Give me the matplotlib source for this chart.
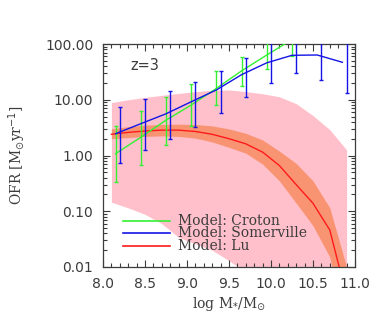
import numpy as np
import matplotlib.pyplot as plt
from matplotlib.ticker import MultipleLocator, LogLocator, FixedLocator, FormatStrFormatter, NullFormatter

# Lu model: median and 1-sigma bands, 0.2 dex grid
lu_x = np.array([8.1, 8.3, 8.5, 8.7, 8.9, 9.1, 9.3, 9.5, 9.7, 9.9, 10.1, 10.3, 10.5, 10.7, 10.9])
lu_med = np.array([2.4, 2.6, 2.75, 2.85, 2.85, 2.7, 2.4, 2.0, 1.62, 1.15, 0.66, 0.3, 0.139, 0.046, 0.003])
lu_hi = np.array([3.0, 3.3, 3.5, 3.6, 3.65, 3.6, 3.4, 3.0, 2.5, 1.9, 1.2, 0.72, 0.35, 0.115, 0.01])
lu_lo = np.array([2.0, 2.1, 2.2, 2.25, 2.2, 2.05, 1.75, 1.4, 1.1, 0.7, 0.35, 0.14, 0.055, 0.015, 0.0005])
# wide (pink) band
lu_hi2 = np.array([8.9, 10.0, 11.0, 12.0, 13.0, 14.0, 14.8, 15.0, 14.0, 12.8, 11.3, 8.5, 5.2, 2.9, 1.26])
lu_lo2 = np.array([0.145, 0.115, 0.088, 0.06, 0.034, 0.026, 0.02, 0.013, 0.008, 0.005, 0.003, 0.002, 0.0015, 0.001, 0.001])

# Croton model
cr_x = np.array([8.15, 8.45, 8.75, 9.05, 9.35, 9.65, 9.95, 10.25])
cr_y = np.array([1.08, 2.12, 4.3, 8.05, 16, 33, 63.5, 120])
cr_lo = np.array([0.34, 0.68, 1.54, 3.43, 7.95, 17.7, 35.6, 61])
cr_hi = np.array([3.4, 6.2, 11.1, 18.9, 33.2, 59, 150, 250])

# Somerville model (error bars shifted by 0.05 dex)
so_x = np.array([8.15, 8.45, 8.75, 9.05, 9.35, 9.65, 9.95, 10.25, 10.55, 10.85])
so_y = np.array([2.46, 3.72, 5.6, 9.2, 15, 28.2, 46, 62.7, 63.5, 47])
so_lo = np.array([0.73, 1.26, 1.98, 3.29, 5.7, 11.3, 20.2, 29.8, 22.9, 13.4])
so_hi = np.array([7.5, 10.3, 14.5, 21.1, 33, 56.8, 150, 200, 200, 200])
so_dx = 0.05

labels = ['Model: Croton', 'Model: Somerville', 'Model: Lu']
colors = ['#33f033', '#1414e6', '#ff1a1a']
txtc = '#3c3c3c'

fig = plt.figure(figsize=(3.74, 3.2), dpi=100)
ax = fig.add_axes([103/374, 53/320, 252/374, 223/320])

ax.fill_between(lu_x, lu_lo2, lu_hi2, color='#ffc0cb', lw=0, zorder=1)
ax.fill_between(lu_x, lu_lo, lu_hi, color='#f99472', lw=0, zorder=2)
ax.plot(lu_x, lu_med, color=colors[2], lw=1.0, zorder=3)

ax.plot(cr_x, cr_y, color=colors[0], lw=1.0, zorder=4)
ax.errorbar(cr_x, cr_y, yerr=[cr_y - cr_lo, cr_hi - cr_y], fmt='none',
            ecolor=colors[0], elinewidth=1.0, capsize=1.5, capthick=1.0, zorder=4)
ax.plot(so_x, so_y, color=colors[1], lw=1.0, zorder=5)
ax.errorbar(so_x + so_dx, so_y, yerr=[so_y - so_lo, so_hi - so_y], fmt='none',
            ecolor=colors[1], elinewidth=1.0, capsize=1.5, capthick=1.0, zorder=5)

ax.set_yscale('log')
ax.set_xlim(8.0, 11.0)
ax.set_ylim(0.01, 100)
ax.xaxis.set_major_locator(MultipleLocator(0.5))
ax.xaxis.set_minor_locator(MultipleLocator(0.1))
ax.yaxis.set_major_locator(FixedLocator([0.01, 0.1, 1, 10, 100]))
ax.yaxis.set_major_formatter(FormatStrFormatter('%.2f'))
ax.yaxis.set_minor_locator(LogLocator(base=10, subs=np.arange(2, 10)))
ax.yaxis.set_minor_formatter(NullFormatter())
ax.xaxis.set_major_formatter(FormatStrFormatter('%.1f'))

ax.tick_params(which='both', direction='in', top=True, right=True, colors=txtc,
               labelsize=10, width=0.8)
ax.tick_params(which='major', length=5, pad=7)
ax.tick_params(which='minor', length=3)
for t in ax.get_xticklabels() + ax.get_yticklabels():
    t.set_color(txtc)
for s in ax.spines.values():
    s.set_color(txtc)
    s.set_linewidth(0.9)

ax.set_xlabel(r'log M$_{*}$/M$_{\odot}$', family='DejaVu Serif', fontsize=10, color=txtc, labelpad=3)
ax.set_ylabel(r'OFR [M$_{\odot}$yr$^{-1}$]', family='DejaVu Serif', fontsize=10, color=txtc, labelpad=12)

ax.text(0.11, 0.905, 'z=3', transform=ax.transAxes, fontsize=10.5, color=txtc,
        va='center', ha='left')

# legend
ly = [0.2076, 0.151, 0.094]
for lab, c, yy in zip(labels, colors, ly):
    ax.plot([0.078, 0.266], [yy, yy], color=c, lw=1.2, transform=ax.transAxes, zorder=6)
    ax.text(0.299, yy, lab, transform=ax.transAxes, family='DejaVu Serif', fontsize=10,
            color=txtc, va='center', ha='left', zorder=6)

fig.savefig('out.png', dpi=100)
